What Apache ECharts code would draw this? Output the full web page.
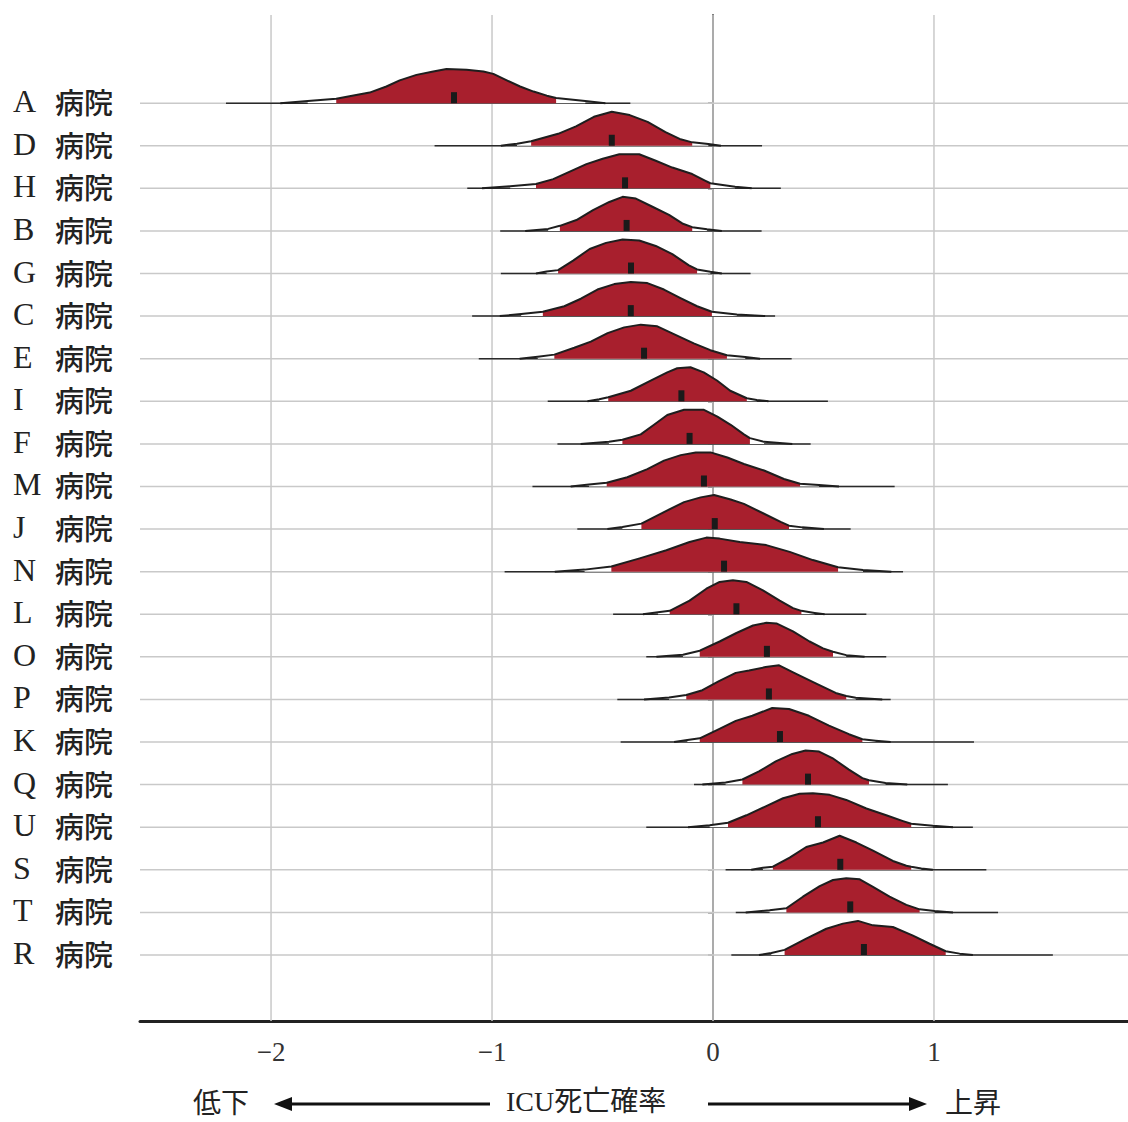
<!DOCTYPE html>
<html>
<head>
<meta charset="utf-8">
<script src="https://cdn.jsdelivr.net/npm/echarts@6/dist/echarts.min.js"></script>
<style>
html,body{margin:0;padding:0;background:#fff;}
#chart{width:1128px;height:1122px;}
</style>
</head>
<body>
<div id="chart"></div>
<script>
// ---- data (top-level named arrays) ----
const hospitalLetters = ['A','D','H','B','G','C','E','I','F','M','J','N','L','O','P','K','Q','U','S','T','R'];
const hospitalSuffix = '病院';
const xTicks = [-2, -1, 0, 1];
const medians = [-1.172,-0.458,-0.398,-0.391,-0.371,-0.372,-0.312,-0.143,-0.106,-0.041,0.008,0.050,0.106,0.244,0.253,0.303,0.430,0.475,0.576,0.621,0.683];
const rangeLo = [-2.204,-1.260,-1.112,-0.963,-0.960,-1.090,-1.060,-0.748,-0.704,-0.817,-0.614,-0.943,-0.452,-0.302,-0.433,-0.418,-0.086,-0.302,0.057,0.103,0.083];
const rangeHi = [-0.374,0.222,0.307,0.220,0.170,0.281,0.356,0.520,0.442,0.822,0.623,0.860,0.694,0.784,0.804,1.181,1.063,1.176,1.237,1.290,1.538];
const outerLo = [-1.834,-0.887,-0.918,-0.746,-0.753,-0.868,-0.793,-0.515,-0.471,-0.561,-0.410,-0.581,-0.249,-0.136,-0.199,-0.116,0.057,-0.015,0.226,0.256,0.264];
const outerHi = [-0.578,-0.021,0.100,-0.027,-0.012,0.108,0.146,0.198,0.231,0.480,0.404,0.679,0.460,0.603,0.646,0.736,0.781,0.995,0.943,1.003,1.116];
const innerLo = [-1.705,-0.823,-0.801,-0.693,-0.701,-0.770,-0.718,-0.474,-0.410,-0.481,-0.324,-0.460,-0.196,-0.060,-0.121,-0.060,0.133,0.068,0.271,0.332,0.324];
const innerHi = [-0.710,-0.094,-0.012,-0.094,-0.072,-0.005,0.063,0.153,0.167,0.394,0.344,0.566,0.400,0.543,0.603,0.676,0.706,0.897,0.897,0.935,1.053];
// density outlines: [x, relative height]
const densityCurves = [
 [[-1.958,0],[-1.834,0.06],[-1.705,0.13],[-1.645,0.20],[-1.554,0.31],[-1.478,0.49],[-1.418,0.67],[-1.342,0.83],[-1.266,0.93],[-1.206,1.0],[-1.115,0.98],[-1.039,0.93],[-0.994,0.86],[-0.933,0.67],[-0.873,0.49],[-0.812,0.34],[-0.752,0.22],[-0.710,0.15],[-0.578,0.06],[-0.487,0]],
 [[-0.960,0],[-0.887,0.06],[-0.823,0.13],[-0.701,0.35],[-0.620,0.57],[-0.539,0.85],[-0.458,1.0],[-0.377,0.9],[-0.296,0.7],[-0.215,0.4],[-0.151,0.2],[-0.094,0.1],[-0.021,0.05],[0.036,0]],
 [[-1.045,0],[-0.918,0.06],[-0.801,0.13],[-0.723,0.27],[-0.648,0.49],[-0.573,0.71],[-0.499,0.87],[-0.424,1.0],[-0.334,1.0],[-0.259,0.81],[-0.184,0.61],[-0.094,0.42],[-0.034,0.22],[-0.012,0.15],[0.100,0.05],[0.175,0]],
 [[-0.850,0],[-0.746,0.06],[-0.693,0.15],[-0.618,0.32],[-0.543,0.61],[-0.469,0.85],[-0.409,1.0],[-0.349,0.95],[-0.274,0.71],[-0.199,0.47],[-0.139,0.22],[-0.094,0.11],[-0.027,0.05],[0.040,0]],
 [[-0.801,0],[-0.753,0.06],[-0.701,0.1],[-0.633,0.38],[-0.558,0.72],[-0.484,0.9],[-0.409,1.0],[-0.334,0.97],[-0.259,0.81],[-0.184,0.57],[-0.109,0.24],[-0.072,0.12],[-0.012,0.05],[0.040,0]],
 [[-0.965,0],[-0.868,0.06],[-0.770,0.13],[-0.673,0.29],[-0.598,0.51],[-0.523,0.78],[-0.447,0.94],[-0.372,1.0],[-0.297,0.97],[-0.222,0.78],[-0.147,0.53],[-0.072,0.29],[-0.005,0.13],[0.108,0.05],[0.236,0]],
 [[-0.875,0],[-0.793,0.06],[-0.718,0.12],[-0.628,0.32],[-0.553,0.5],[-0.477,0.75],[-0.402,0.92],[-0.327,1.0],[-0.252,0.95],[-0.177,0.72],[-0.087,0.45],[-0.012,0.25],[0.063,0.1],[0.146,0.05],[0.213,0]],
 [[-0.568,0],[-0.515,0.06],[-0.474,0.12],[-0.372,0.31],[-0.282,0.61],[-0.207,0.85],[-0.162,0.97],[-0.102,1.0],[-0.042,0.85],[0.018,0.61],[0.078,0.31],[0.153,0.09],[0.198,0.04],[0.251,0]],
 [[-0.599,0],[-0.471,0.06],[-0.410,0.12],[-0.327,0.28],[-0.267,0.56],[-0.207,0.85],[-0.131,1.0],[-0.041,1.0],[0.020,0.8],[0.080,0.56],[0.140,0.28],[0.167,0.17],[0.231,0.06],[0.359,0]],
 [[-0.644,0],[-0.561,0.06],[-0.481,0.11],[-0.388,0.27],[-0.297,0.51],[-0.222,0.76],[-0.146,0.92],[-0.078,1.0],[-0.011,1.0],[0.065,0.85],[0.140,0.66],[0.231,0.47],[0.321,0.22],[0.394,0.08],[0.480,0.04],[0.570,0]],
 [[-0.478,0],[-0.410,0.06],[-0.324,0.16],[-0.222,0.5],[-0.131,0.79],[-0.056,0.93],[0.005,1.0],[0.080,0.87],[0.140,0.74],[0.231,0.45],[0.306,0.21],[0.344,0.1],[0.404,0.05],[0.502,0]],
 [[-0.716,0],[-0.581,0.06],[-0.460,0.15],[-0.332,0.39],[-0.211,0.63],[-0.106,0.87],[-0.030,1.0],[0.030,0.97],[0.121,0.87],[0.241,0.78],[0.347,0.58],[0.452,0.34],[0.566,0.13],[0.679,0.05],[0.807,0]],
 [[-0.317,0],[-0.249,0.06],[-0.196,0.1],[-0.106,0.4],[-0.030,0.75],[0.030,0.95],[0.090,1.0],[0.151,0.95],[0.226,0.7],[0.302,0.4],[0.362,0.18],[0.400,0.1],[0.460,0.04],[0.505,0]],
 [[-0.256,0],[-0.136,0.06],[-0.060,0.18],[0.030,0.45],[0.106,0.7],[0.181,0.92],[0.241,1.0],[0.287,0.98],[0.362,0.75],[0.437,0.45],[0.498,0.25],[0.543,0.15],[0.603,0.05],[0.686,0]],
 [[-0.312,0],[-0.199,0.06],[-0.121,0.13],[-0.048,0.27],[0.027,0.54],[0.103,0.78],[0.163,0.85],[0.238,0.95],[0.299,1.0],[0.374,0.76],[0.465,0.47],[0.555,0.19],[0.603,0.1],[0.646,0.05],[0.766,0]],
 [[-0.176,0],[-0.116,0.06],[-0.060,0.11],[0.027,0.38],[0.103,0.62],[0.178,0.77],[0.268,1.0],[0.344,0.97],[0.434,0.77],[0.525,0.48],[0.615,0.23],[0.676,0.08],[0.736,0.04],[0.804,0]],
 [[-0.048,0],[0.057,0.06],[0.133,0.15],[0.208,0.39],[0.284,0.68],[0.359,0.9],[0.419,1.0],[0.480,0.97],[0.540,0.78],[0.615,0.44],[0.676,0.19],[0.706,0.13],[0.781,0.05],[0.879,0]],
 [[-0.113,0],[-0.015,0.06],[0.068,0.13],[0.151,0.35],[0.241,0.62],[0.317,0.85],[0.392,0.98],[0.452,1.0],[0.528,0.95],[0.603,0.8],[0.694,0.55],[0.784,0.35],[0.860,0.18],[0.897,0.1],[0.995,0.04],[1.086,0]],
 [[0.173,0],[0.226,0.06],[0.271,0.09],[0.347,0.36],[0.422,0.67],[0.498,0.8],[0.573,1.0],[0.649,0.8],[0.724,0.56],[0.814,0.26],[0.875,0.12],[0.897,0.09],[0.943,0.04],[0.995,0]],
 [[0.148,0],[0.256,0.06],[0.332,0.12],[0.407,0.46],[0.483,0.77],[0.543,0.95],[0.603,1.0],[0.664,0.97],[0.724,0.75],[0.799,0.46],[0.875,0.22],[0.935,0.09],[1.003,0.04],[1.086,0]],
 [[0.208,0],[0.264,0.06],[0.324,0.15],[0.422,0.48],[0.513,0.77],[0.588,0.92],[0.656,1.0],[0.724,0.87],[0.814,0.82],[0.905,0.57],[0.980,0.33],[1.053,0.11],[1.116,0.04],[1.176,0]]
];

// ---- layout constants ----
const N = hospitalLetters.length;
const X_MIN = -2.593, X_MAX = 1.878;
const Y_MIN = -1.55, Y_MAX = 22.07;
const PEAK = 0.8; // ridge height in row units
const RED = '#a81f2d';
const rowValue = i => N - 1 - i;
const rowValues = hospitalLetters.map((_, i) => rowValue(i));
const SERIF = "'Liberation Serif', 'Noto Sans CJK JP', serif";
const CJK = "'Noto Sans CJK JP', sans-serif";

const chart = echarts.init(document.getElementById('chart'), null, {renderer: 'svg'});

function segmentPoints(curve, lo, hi) {
  return curve.filter(p => p[0] >= lo - 1e-9 && p[0] <= hi + 1e-9);
}

const option = {
  backgroundColor: '#ffffff',
  animation: false,
  grid: {left: 140, right: 0, top: 15, bottom: 101, containLabel: false, outerBoundsMode: 'none'},
  xAxis: {
    type: 'value', min: X_MIN, max: X_MAX,
    axisLine: {show: true, onZero: false, lineStyle: {color: '#222', width: 3}},
    axisTick: {show: false},
    splitLine: {show: false},
    axisLabel: {
      customValues: xTicks, margin: 17,
      fontFamily: SERIF, fontSize: 27, color: '#333',
      formatter: v => (v < 0 ? '\u2212' + Math.abs(v) : String(v))
    }
  },
  yAxis: {
    type: 'value', min: Y_MIN, max: Y_MAX,
    axisLine: {show: true, lineStyle: {color: '#555', width: 2}},
    axisTick: {show: true, customValues: rowValues, length: 5, lineStyle: {color: '#999', width: 1.5}},
    splitLine: {show: false},
    axisLabel: {
      customValues: rowValues, margin: 127, align: 'left',
      color: '#222', lineHeight: 30, padding: [0, 0, 4, 0],
      formatter: v => '{l|' + hospitalLetters[N - 1 - Math.round(v)] + '}{k|' + hospitalSuffix + '}',
      rich: {
        l: {width: 42, align: 'left', fontFamily: SERIF, fontSize: 32, lineHeight: 30, color: '#222'},
        k: {fontFamily: CJK, fontSize: 29, lineHeight: 30, color: '#222', fontWeight: 500}
      }
    }
  },
  series: [
    { // grid lines (behind)
      type: 'custom', z: 1, silent: true,
      data: xTicks.map(v => [v, 0, 0]).concat(rowValues.map(r => [0, r, 1])),
      encode: {x: 0, y: 1},
      renderItem: (params, api) => {
        const kind = api.value(2);
        let p1, p2;
        if (kind === 0) {
          p1 = api.coord([api.value(0), Y_MAX]);
          p2 = api.coord([api.value(0), Y_MIN]);
        } else {
          p1 = api.coord([X_MIN, api.value(1)]);
          p2 = api.coord([X_MAX, api.value(1)]);
        }
        return {type: 'line', shape: {x1: p1[0], y1: p1[1], x2: p2[0], y2: p2[1]},
                style: {stroke: '#c9c9c9', lineWidth: 1.5}};
      }
    },
    { // ridges
      type: 'custom', z: 3, silent: true,
      data: hospitalLetters.map((h, i) => [medians[i], rowValue(i), i]),
      encode: {x: 0, y: 1},
      renderItem: (params, api) => {
        const i = api.value(2);
        const row = rowValue(i);
        const curve = densityCurves[i];
        const pt = p => api.coord([p[0], row + p[1] * PEAK]);
        const base = x => api.coord([x, row]);
        const poly = pts => {
          const out = [base(pts[0][0])];
          pts.forEach(p => out.push(pt(p)));
          out.push(base(pts[pts.length - 1][0]));
          return out;
        };
        const a = base(rangeLo[i]), b = base(rangeHi[i]);
        const m = base(medians[i]);
        return {
          type: 'group',
          children: [
            {type: 'line', shape: {x1: a[0], y1: a[1], x2: b[0], y2: b[1]}, style: {stroke: '#2a2a2a', lineWidth: 1.5}},
            {type: 'polygon', shape: {points: poly(segmentPoints(curve, outerLo[i], outerHi[i]))}, style: {fill: '#ffffff'}},
            {type: 'polygon', shape: {points: poly(segmentPoints(curve, innerLo[i], innerHi[i]))}, style: {fill: RED}},
            {type: 'polyline', shape: {points: curve.map(pt)}, style: {stroke: '#1e1e1e', lineWidth: 2, fill: null, lineJoin: 'round'}},
            {type: 'rect', shape: {x: m[0] - 3, y: m[1] - 11, width: 6, height: 11}, style: {fill: '#1a1a1a'}}
          ]
        };
      }
    }
  ],
  graphic: [
    {type: 'text', x: 193, y: 1101, style: {text: '低下', font: "28px 'Noto Sans CJK JP'", lineHeight: 28, fill: '#222', verticalAlign: 'middle'}},
    {type: 'line', shape: {x1: 288, y1: 1104, x2: 490, y2: 1104}, style: {stroke: '#111', lineWidth: 3}},
    {type: 'polygon', shape: {points: [[274, 1104], [292, 1097], [292, 1111]]}, style: {fill: '#111'}},
    {type: 'text', x: 506, y: 1101, style: {text: 'ICU死亡確率', font: "28px 'Liberation Serif', 'Noto Sans CJK JP'", lineHeight: 28, fill: '#222', verticalAlign: 'middle'}},
    {type: 'line', shape: {x1: 708, y1: 1104, x2: 912, y2: 1104}, style: {stroke: '#111', lineWidth: 3}},
    {type: 'polygon', shape: {points: [[927, 1104], [909, 1097], [909, 1111]]}, style: {fill: '#111'}},
    {type: 'text', x: 945, y: 1101, style: {text: '上昇', font: "28px 'Noto Sans CJK JP'", lineHeight: 28, fill: '#222', verticalAlign: 'middle'}}
  ]
};
chart.setOption(option);
</script>
</body>
</html>
